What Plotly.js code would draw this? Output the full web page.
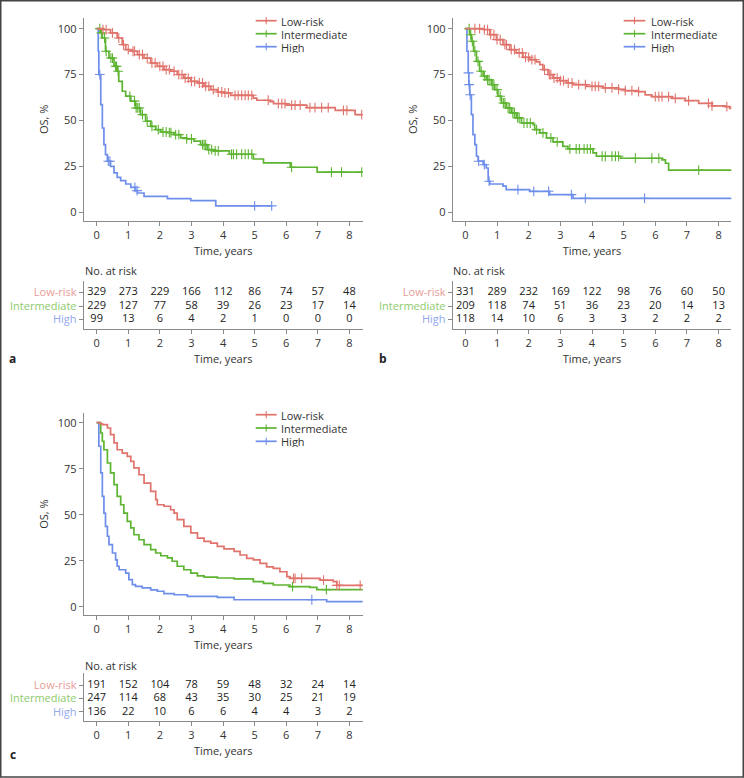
<!DOCTYPE html>
<html><head><meta charset="utf-8">
<script src="https://cdn.plot.ly/plotly-3.0.1.min.js"></script>
<style>html,body{margin:0;padding:0;background:#fff}#chart{width:744px;height:778px}</style>
</head><body><div id="chart"></div>
<script>
// ---------- categories / styling lists ----------
const seriesNames = ['Low-risk', 'Intermediate', 'High'];
const lineColors = ['#E0736B', '#5DB431', '#6E8EEB'];
const labelColors = ['#E99C97', '#8CCB6B', '#93A9EF'];
const panelLabels = ['a', 'b', 'c'];
const riskTimes = [0, 1, 2, 3, 4, 5, 6, 7, 8];
const yTicks = [0, 25, 50, 75, 100];

// ---------- panel a: Kaplan-Meier steps (time in years, OS %) ----------
const aLowT = [0, 0.2, 0.44, 0.65, 0.81, 0.92, 1.08, 1.29, 1.5, 1.71, 1.92, 2.13, 2.34, 2.55, 2.76, 2.98, 3.19, 3.4, 3.61, 3.82, 4.03, 4.24, 4.96, 5.07, 5.49, 5.6, 6.0, 6.65, 7.55, 8.18, 8.45];
const aLowS = [100, 99.5, 97.7, 94.9, 91.3, 88.6, 87.7, 85.8, 84, 81.3, 79.5, 77.7, 76.8, 75, 73.1, 71.3, 70.4, 68.6, 66.8, 65.5, 65, 63.7, 62.2, 61, 60.3, 59.2, 58.4, 57, 55.5, 53.2, 53.2];
const aLowC = [0.2, 0.3, 0.5, 0.7, 0.85, 1.0, 1.15, 1.2, 1.35, 1.45, 1.6, 1.75, 1.85, 2.0, 2.1, 2.2, 2.3, 2.45, 2.6, 2.7, 2.8, 2.9, 3.0, 3.1, 3.25, 3.35, 3.45, 3.55, 3.69, 3.85, 3.96, 4.06, 4.17, 4.38, 4.48, 4.59, 4.7, 4.8, 4.91, 5.43, 5.75, 5.86, 5.96, 6.17, 6.28, 6.44, 6.75, 6.91, 7.12, 7.33, 7.81, 7.92, 8.39];
const aIntT = [0, 0.12, 0.18, 0.28, 0.39, 0.55, 0.65, 0.7, 0.81, 0.92, 1.08, 1.23, 1.39, 1.55, 1.71, 1.87, 2.03, 2.22, 2.45, 2.66, 2.85, 3.08, 3.29, 3.5, 3.69, 4.2, 4.96, 5.28, 6.13, 6.98, 8.45];
const aIntS = [100, 97.7, 94.9, 87.7, 84, 79.5, 76.8, 71.3, 65.9, 63.2, 60.5, 56.8, 53.2, 49.6, 46.8, 45, 43.7, 43.4, 42.3, 40.5, 40.0, 38.7, 36.8, 34.1, 33.4, 31.6, 29, 26.9, 24.5, 21.9, 21.9];
const aIntC = [0.1, 0.15, 0.25, 0.3, 0.45, 0.5, 0.6, 0.63, 0.68, 1.05, 1.2, 1.25, 1.3, 1.35, 1.45, 1.6, 1.75, 1.95, 2.1, 2.2, 2.3, 2.35, 2.5, 2.6, 2.85, 3.0, 3.35, 3.4, 3.45, 3.55, 3.64, 3.75, 3.85, 4.27, 4.33, 4.43, 4.59, 4.7, 4.8, 4.91, 6.17, 7.43, 7.75, 8.39];
const aHighT = [0, 0.05, 0.07, 0.13, 0.18, 0.23, 0.28, 0.34, 0.44, 0.55, 0.65, 0.76, 0.92, 1.08, 1.23, 1.29, 1.5, 2.24, 2.98, 3.77, 5.54];
const aHighS = [100, 87.7, 75, 58.6, 45.9, 36.8, 31.4, 27.8, 25, 21.4, 19, 17.2, 15.4, 13.6, 11.8, 10.5, 8.7, 7.4, 6.3, 3.5, 3.5];
const aHighC = [0.1, 0.37, 0.42, 1.21, 1.28, 5.0, 5.54];

// ---------- panel b ----------
const bLowT = [0, 0.56, 0.77, 0.98, 1.19, 1.4, 1.61, 1.82, 2.03, 2.24, 2.35, 2.45, 2.61, 2.77, 2.98, 3.19, 3.4, 3.82, 4.35, 4.84, 5.05, 5.47, 5.68, 5.89, 6.53, 6.95, 7.37, 7.79, 8.21, 8.35, 8.45];
const bLowS = [100, 99.5, 96.7, 94, 91.3, 88.6, 86.8, 84.4, 83.1, 81.9, 80.4, 77.7, 75, 73.1, 71.7, 70.4, 69.5, 68.6, 67.7, 67, 66.2, 65.7, 63.9, 63, 62, 60.8, 59.3, 57.9, 57.5, 56.6, 56.6];
const bLowC = [0.3, 0.45, 0.6, 0.7, 0.8, 0.9, 1.0, 1.1, 1.25, 1.3, 1.45, 1.55, 1.7, 1.8, 1.9, 2.0, 2.1, 2.2, 2.5, 2.65, 2.7, 2.8, 2.9, 3.0, 3.1, 3.25, 3.37, 3.58, 3.79, 4.0, 4.1, 4.21, 4.42, 4.63, 4.84, 5.05, 5.26, 5.47, 6.0, 6.11, 6.21, 6.42, 6.63, 7.05, 7.68, 7.79, 8.26];
const bIntT = [0, 0.14, 0.19, 0.26, 0.35, 0.45, 0.56, 0.66, 0.82, 0.93, 1.03, 1.14, 1.29, 1.45, 1.61, 1.77, 2.14, 2.19, 2.35, 2.56, 2.77, 3.08, 3.24, 4.03, 4.14, 4.9, 6.21, 6.32, 6.42, 8.45];
const bIntS = [100, 96.7, 93.1, 87.7, 82.2, 76.8, 74.1, 72.2, 69.5, 66.8, 63.2, 59.5, 56.8, 54.1, 51.4, 48.6, 47.7, 45, 43.2, 40.5, 38.3, 35.9, 34.5, 32.3, 30.5, 29.4, 28.5, 26.7, 23, 23];
const bIntC = [0.12, 0.17, 0.22, 0.3, 0.4, 0.5, 0.6, 0.7, 0.75, 0.85, 0.9, 1.0, 1.1, 1.2, 1.25, 1.35, 1.4, 1.5, 1.55, 1.65, 1.7, 1.85, 1.95, 2.05, 2.25, 2.45, 2.7, 2.9, 3.3, 3.5, 3.6, 3.75, 3.85, 3.95, 4.32, 4.42, 4.63, 4.74, 4.84, 5.37, 5.89, 6.11, 7.37];
const bHighT = [0, 0.05, 0.09, 0.11, 0.14, 0.19, 0.24, 0.3, 0.35, 0.4, 0.56, 0.66, 0.72, 0.77, 1.19, 1.29, 2.03, 2.66, 3.4, 8.45];
const bHighS = [100, 87.7, 75.9, 69.5, 64, 53.2, 42.3, 36.8, 30.5, 27.8, 25.9, 24.1, 16.9, 15.4, 14.2, 12.3, 11.4, 9.6, 7.6, 7.6];
const bHighC = [0.1, 0.12, 0.15, 0.42, 0.6, 0.75, 1.66, 2.16, 2.63, 3.35, 3.79, 5.66];

// ---------- panel c ----------
const cLowT = [0, 0.11, 0.18, 0.34, 0.44, 0.55, 0.65, 0.81, 0.97, 1.08, 1.18, 1.34, 1.5, 1.71, 1.87, 1.92, 2.13, 2.34, 2.45, 2.55, 2.76, 2.98, 3.19, 3.4, 3.61, 3.82, 4.03, 4.35, 4.54, 4.75, 4.96, 5.17, 5.38, 5.59, 5.8, 6.02, 6.12, 7.07, 7.49, 7.6, 8.45];
const cLowS = [100, 99.3, 98.9, 97.1, 93.5, 89, 85.3, 83.5, 81.7, 79, 75.4, 71.7, 67.2, 62.7, 58.2, 55.4, 54.6, 52.7, 50.9, 47.3, 43.7, 40.1, 37.3, 35.5, 34.6, 32.8, 31.4, 30.1, 28.1, 26.3, 25.4, 23.6, 21.7, 20.8, 19, 16.3, 15.4, 14.5, 13.6, 11.6, 11.6];
const cLowC = [6.23, 6.28, 6.49, 7.18, 7.6, 7.68, 8.34];
const cIntT = [0, 0.13, 0.18, 0.23, 0.34, 0.44, 0.55, 0.65, 0.76, 0.86, 0.97, 1.08, 1.18, 1.34, 1.5, 1.71, 1.87, 2.03, 2.24, 2.39, 2.55, 2.76, 2.98, 3.19, 3.4, 3.82, 4.35, 4.96, 5.28, 5.59, 6.12, 6.75, 6.97, 8.45];
const cIntS = [100, 94.4, 89.9, 85.3, 78.1, 72.7, 66.3, 60, 55.4, 50.9, 46.4, 42.8, 39.1, 36.4, 33.7, 31, 29.2, 27.7, 26.5, 24.7, 22, 20.1, 18.3, 16.8, 16.1, 15.6, 15.1, 13.6, 12.7, 11.8, 10.9, 10.5, 9.3, 9.3];
const cIntC = [6.2, 7.27];
const cHighT = [0, 0.07, 0.13, 0.18, 0.23, 0.28, 0.34, 0.39, 0.5, 0.6, 0.65, 0.71, 0.92, 1.02, 1.13, 1.23, 1.44, 1.71, 1.92, 2.13, 2.45, 2.87, 3.82, 4.35, 7.28, 8.45];
const cHighS = [100, 87.2, 72.7, 60, 50.9, 43.7, 38.3, 33.7, 29.2, 25.5, 22, 20.1, 18.3, 14.7, 12, 11.1, 10.2, 9.2, 8.4, 7.1, 6.5, 5.6, 5.1, 3.8, 2.8, 2.8];
const cHighC = [6.81];

// ---------- numbers at risk ----------
const aRiskLow = [329, 273, 229, 166, 112, 86, 74, 57, 48];
const aRiskInt = [229, 127, 77, 58, 39, 26, 23, 17, 14];
const aRiskHigh = [99, 13, 6, 4, 2, 1, 0, 0, 0];
const bRiskLow = [331, 289, 232, 169, 122, 98, 76, 60, 50];
const bRiskInt = [209, 118, 74, 51, 36, 23, 20, 14, 13];
const bRiskHigh = [118, 14, 10, 6, 3, 3, 2, 2, 2];
const cRiskLow = [191, 152, 104, 78, 59, 48, 32, 24, 14];
const cRiskInt = [247, 114, 68, 43, 35, 30, 25, 21, 19];
const cRiskHigh = [136, 22, 10, 6, 6, 4, 4, 3, 2];

// ---------- build ----------
const W = 744, H = 778;
const FONT = '"Open Sans", "Noto Sans", sans-serif';
const px = v => v / W;
const py = v => 1 - v / H;

function survAt(T, S, t) {
  let v = S[0];
  for (let i = 0; i < T.length; i++) if (T[i] <= t) v = S[i];
  return v;
}

const panels = [
  {curves: [[aLowT, aLowS, aLowC], [aIntT, aIntS, aIntC], [aHighT, aHighS, aHighC]],
   risk: [aRiskLow, aRiskInt, aRiskHigh], xa: 'x', ya: 'y', xt: 'x2', yt: 'y2'},
  {curves: [[bLowT, bLowS, bLowC], [bIntT, bIntS, bIntC], [bHighT, bHighS, bHighC]],
   risk: [bRiskLow, bRiskInt, bRiskHigh], xa: 'x3', ya: 'y3', xt: 'x4', yt: 'y4'},
  {curves: [[cLowT, cLowS, cLowC], [cIntT, cIntS, cIntC], [cHighT, cHighS, cHighC]],
   risk: [cRiskLow, cRiskInt, cRiskHigh], xa: 'x5', ya: 'y5', xt: 'x6', yt: 'y6'}
];

const traces = [];
panels.forEach(p => {
  [2, 1, 0].forEach(i => {
    const [T, S, C] = p.curves[i];
    const col = lineColors[i];
    traces.push({type: 'scatter', mode: 'lines', x: T, y: S, name: seriesNames[i],
      line: {shape: 'hv', color: col, width: 1.7}, xaxis: p.xa, yaxis: p.ya,
      showlegend: false, hoverinfo: 'skip'});
    traces.push({type: 'scatter', mode: 'markers', x: C, y: C.map(t => survAt(T, S, t)),
      name: seriesNames[i] + ' censored',
      marker: {symbol: 'cross-thin', size: 7, color: col, line: {color: col, width: 1.1}},
      xaxis: p.xa, yaxis: p.ya, showlegend: false, hoverinfo: 'skip'});
  });
  p.risk.forEach((vals, i) => {
    traces.push({type: 'scatter', mode: 'text', x: riskTimes, y: riskTimes.map(() => seriesNames[i]),
      text: vals.map(String), textposition: 'middle center',
      textfont: {family: FONT, size: 11, color: '#222'},
      xaxis: p.xt, yaxis: p.yt, showlegend: false, hoverinfo: 'skip', cliponaxis: false});
  });
});

const axisBase = {
  showline: true, linecolor: '#8a8a8a', linewidth: 1, ticks: 'outside', ticklen: 4,
  tickcolor: '#8a8a8a', tickwidth: 1, showgrid: false, zeroline: false, fixedrange: true,
  automargin: false, tickfont: {family: FONT, size: 11, color: '#333'}
};
function xAxis(domain, range, anchor) {
  return Object.assign({}, axisBase, {domain, range, anchor, tickvals: riskTimes,
    title: {text: 'Time, years', standoff: 6, font: {family: FONT, size: 11, color: '#333'}}});
}
function yMain(domain, anchor) {
  return Object.assign({}, axisBase, {domain, range: [-4.6, 105.8], anchor, tickvals: yTicks,
    title: {text: 'OS, %', standoff: 6, font: {family: FONT, size: 11, color: '#333'}}});
}
function yTable(domain, anchor) {
  return Object.assign({}, axisBase, {domain, anchor, type: 'category',
    categoryorder: 'array', categoryarray: ['High', 'Intermediate', 'Low-risk'],
    range: [-0.68, 2.88], tickvals: seriesNames,
    ticktext: seriesNames.map((n, i) => '<span style="color:' + labelColors[i] + '">' + n + '</span>')});
}

const xA = [px(83.7), px(362.7)], xB = [px(452.7), px(731.3)];
const layout = {
  width: W, height: H, margin: {l: 0, r: 0, t: 0, b: 0},
  paper_bgcolor: '#fff', plot_bgcolor: '#fff', showlegend: false,
  font: {family: FONT, size: 11, color: '#333'},
  xaxis: xAxis(xA, [-0.41, 8.42], 'y'),
  yaxis: yMain([py(220.7), py(18)], 'x'),
  xaxis2: xAxis(xA, [-0.41, 8.42], 'y2'),
  yaxis2: yTable([py(328.7), py(280.7)], 'x2'),
  xaxis3: xAxis(xB, [-0.40, 8.40], 'y3'),
  yaxis3: yMain([py(220.7), py(18)], 'x3'),
  xaxis4: xAxis(xB, [-0.40, 8.40], 'y4'),
  yaxis4: yTable([py(328.7), py(280.7)], 'x4'),
  xaxis5: xAxis(xA, [-0.41, 8.42], 'y5'),
  yaxis5: Object.assign(yMain([py(615), py(413.3)], 'x5'), {range: [-4.5, 105.1]}),
  xaxis6: xAxis(xA, [-0.41, 8.42], 'y6'),
  yaxis6: yTable([py(721), py(673.3)], 'x6'),
  shapes: [], annotations: []
};

// frame around the figure
layout.shapes.push({type: 'rect', xref: 'paper', yref: 'paper', x0: px(0.75), x1: px(743.25),
  y0: py(777), y1: py(0.75), line: {color: '#444', width: 1.5}, fillcolor: 'rgba(0,0,0,0)'});

// legends (line with censor tick + label) per panel
const legendPos = [
  {x0: 255.7, x1: 276.7, tx: 280, rows: [20.7, 33.7, 46.7]},
  {x0: 623.7, x1: 645.3, tx: 649.7, rows: [20.7, 33.7, 46.7]},
  {x0: 255.7, x1: 276.7, tx: 280, rows: [414.7, 428, 441.3]}
];
legendPos.forEach(L => {
  seriesNames.forEach((n, i) => {
    const yy = L.rows[i], mid = (L.x0 + L.x1) / 2;
    layout.shapes.push({type: 'line', xref: 'paper', yref: 'paper', x0: px(L.x0), x1: px(L.x1),
      y0: py(yy), y1: py(yy), line: {color: lineColors[i], width: 1.7}});
    layout.shapes.push({type: 'line', xref: 'paper', yref: 'paper', x0: px(mid), x1: px(mid),
      y0: py(yy - 3.5), y1: py(yy + 3.5), line: {color: lineColors[i], width: 1.1}});
    layout.annotations.push({xref: 'paper', yref: 'paper', x: px(L.tx), y: py(yy), text: n,
      xanchor: 'left', yanchor: 'middle', showarrow: false, height: 12, borderpad: 0,
      font: {family: FONT, size: 11, color: '#333'}});
  });
});

// "No. at risk" headers and panel letters
[[83, 271], [451.3, 271], [83, 665.7]].forEach(([x, y]) => layout.annotations.push({
  xref: 'paper', yref: 'paper', x: px(x), y: py(y), text: 'No. at risk', xanchor: 'left',
  yanchor: 'middle', showarrow: false, font: {family: FONT, size: 11, color: '#333'}}));
[[13, 359], [383, 359], [13, 754]].forEach(([x, y], i) => layout.annotations.push({
  xref: 'paper', yref: 'paper', x: px(x), y: py(y), text: '<b>' + panelLabels[i] + '</b>',
  xanchor: 'center', yanchor: 'middle', showarrow: false, font: {family: FONT, size: 12, color: '#222'}}));

Plotly.newPlot('chart', traces, layout, {staticPlot: true, displayModeBar: false});
</script>
</body></html>
